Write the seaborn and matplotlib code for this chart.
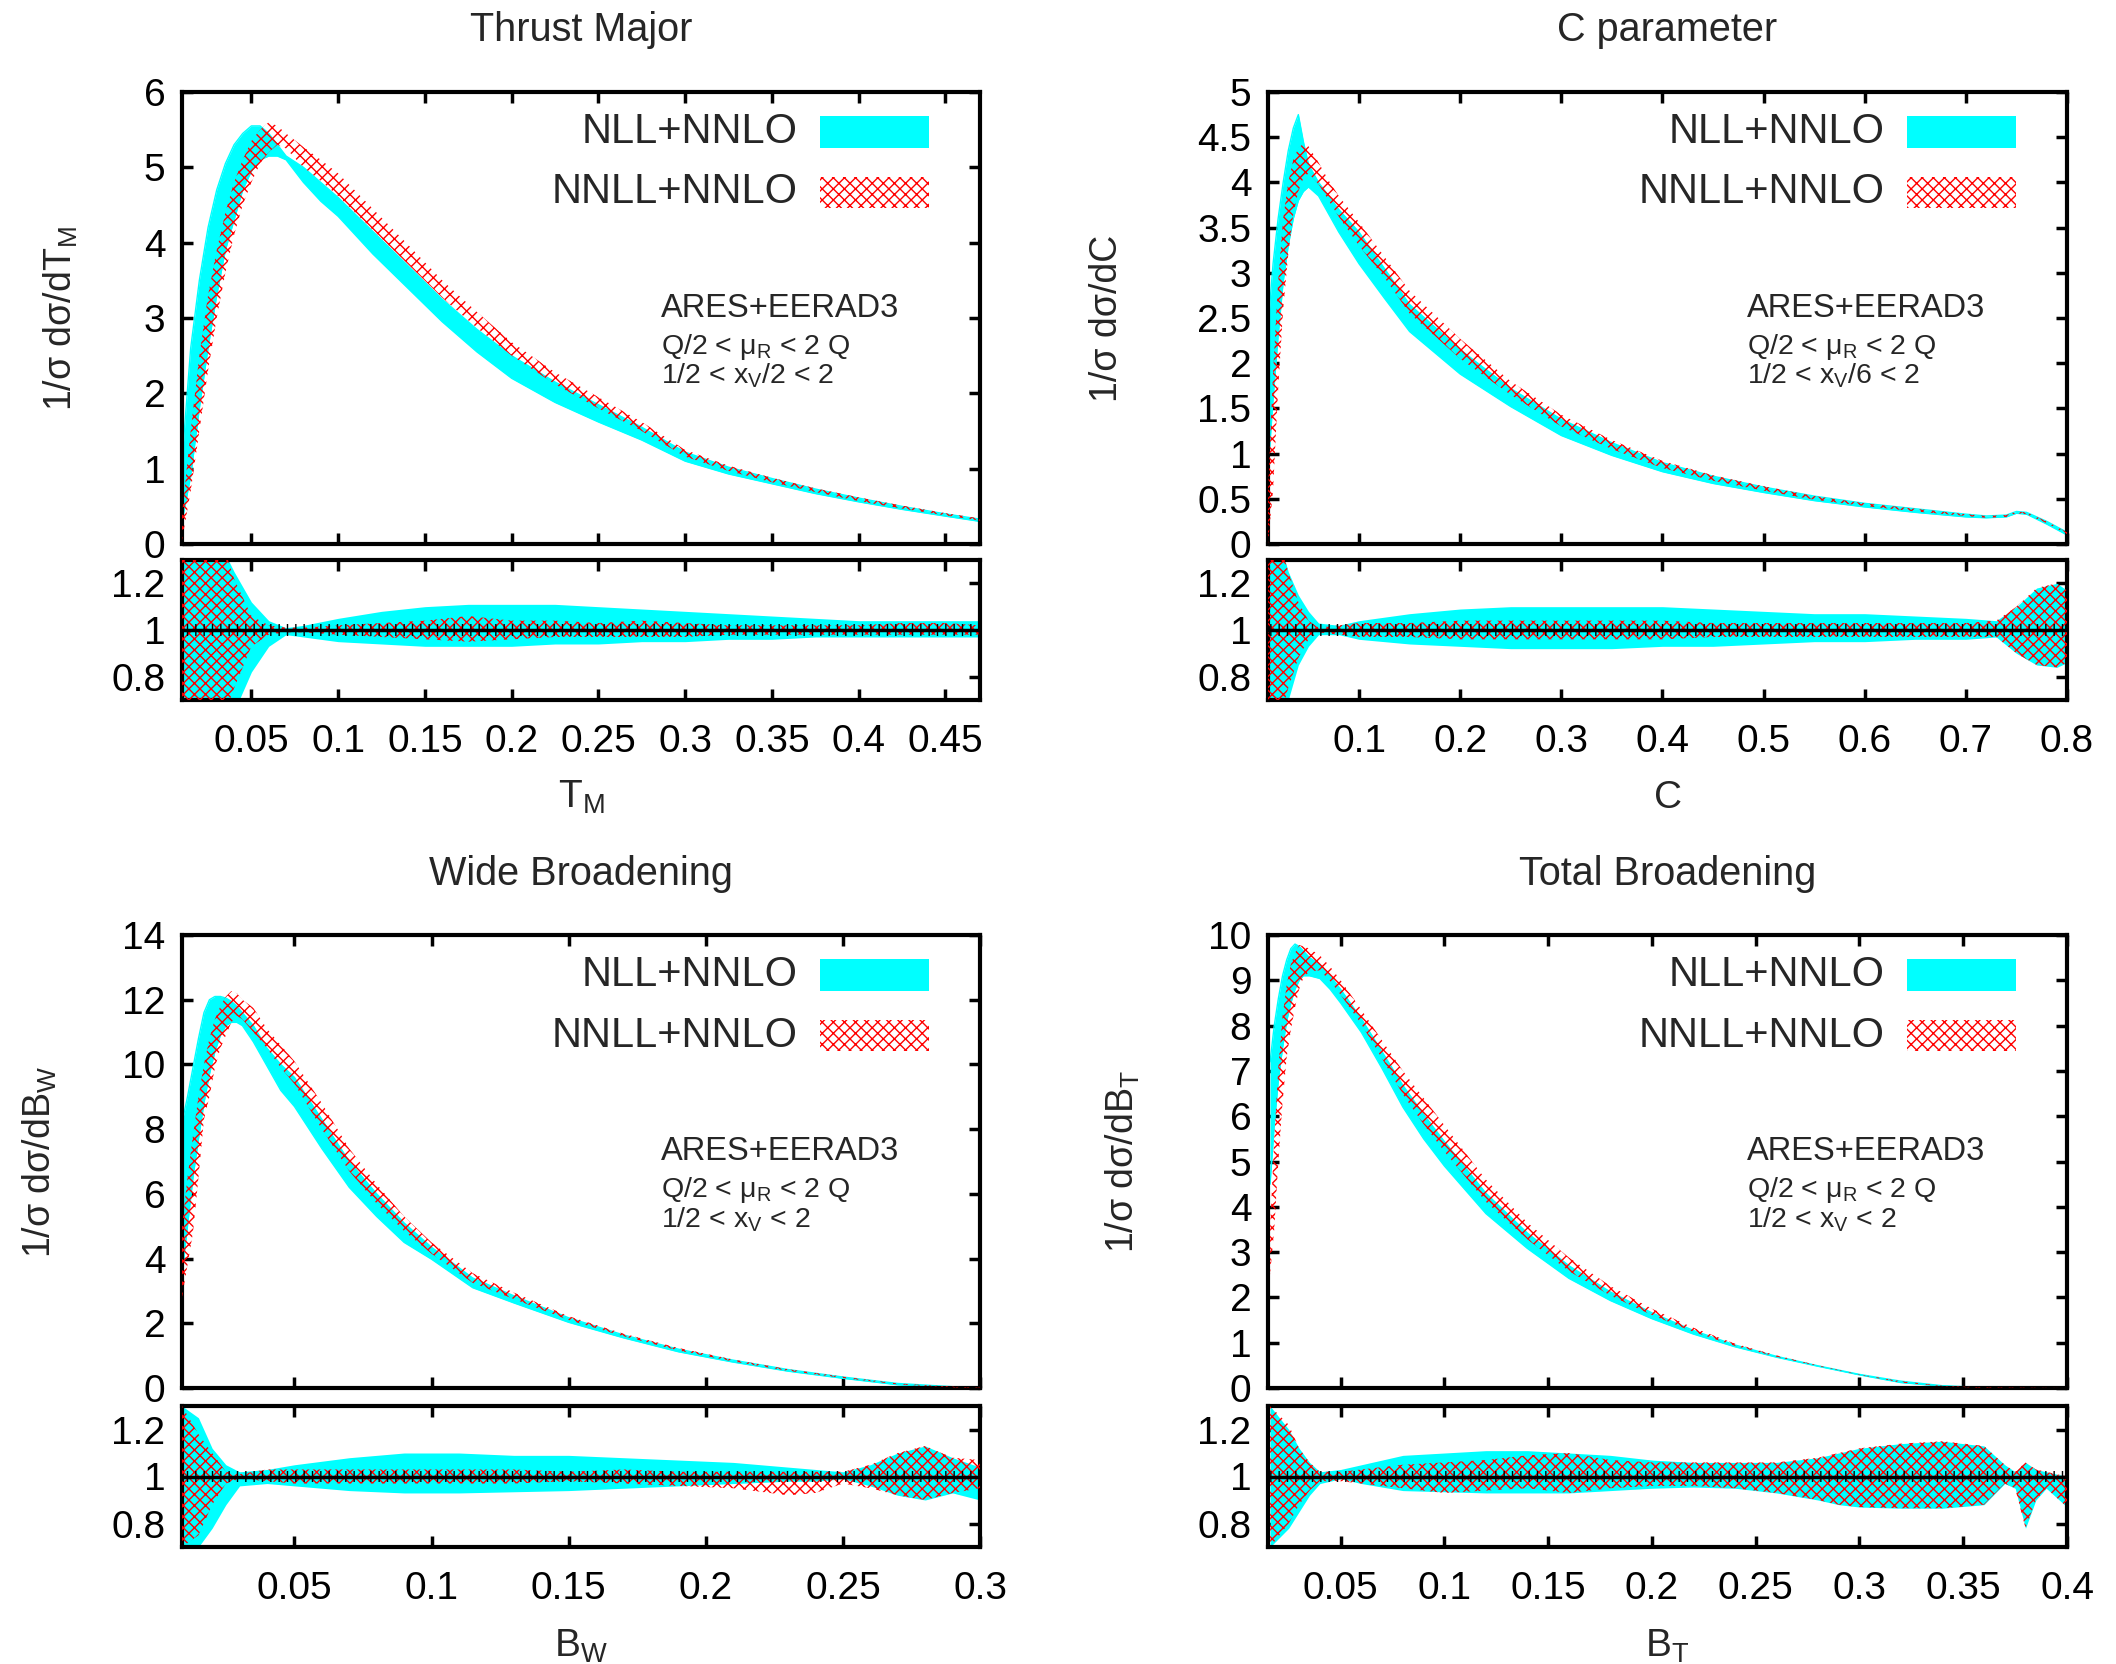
import matplotlib
matplotlib.use("Agg")
import matplotlib.pyplot as plt
import seaborn as sns
import numpy as np
from matplotlib.patches import Rectangle
from matplotlib.ticker import FixedLocator, FormatStrFormatter

# ---------------- Thrust Major ----------------
tm_x = [0.010, 0.015, 0.020, 0.025, 0.030, 0.035, 0.040, 0.045, 0.050, 0.055, 0.060, 0.065, 0.070,
        0.080, 0.090, 0.100, 0.120, 0.140, 0.160, 0.180, 0.200, 0.225, 0.250, 0.275, 0.300, 0.325,
        0.350, 0.375, 0.400, 0.425, 0.450, 0.470]
tm_nll_hi = [1.10, 2.60, 3.50, 4.20, 4.70, 5.05, 5.30, 5.45, 5.55, 5.55, 5.45, 5.30, 5.15,
             5.00, 4.80, 4.60, 4.15, 3.70, 3.25, 2.85, 2.50, 2.15, 1.85, 1.55, 1.22, 1.02,
             0.87, 0.73, 0.61, 0.50, 0.40, 0.33]
tm_nll_lo = [0.30, 0.90, 1.80, 2.60, 3.30, 3.90, 4.30, 4.70, 4.95, 5.10, 5.15, 5.15, 5.10,
             4.80, 4.55, 4.35, 3.85, 3.40, 2.95, 2.55, 2.20, 1.88, 1.62, 1.38, 1.10, 0.93,
             0.80, 0.67, 0.56, 0.46, 0.37, 0.30]
tm_nnll_hi = [0.40, 1.50, 2.50, 3.30, 3.90, 4.40, 4.80, 5.10, 5.35, 5.50, 5.60, 5.55, 5.45,
              5.27, 5.10, 4.92, 4.45, 3.98, 3.50, 3.08, 2.68, 2.28, 1.95, 1.62, 1.25, 1.04,
              0.88, 0.74, 0.62, 0.51, 0.41, 0.34]
tm_nnll_lo = [0.05, 0.70, 1.50, 2.30, 3.00, 3.60, 4.10, 4.50, 4.80, 5.05, 5.20, 5.30, 5.25,
              5.00, 4.82, 4.62, 4.17, 3.72, 3.27, 2.87, 2.50, 2.12, 1.80, 1.50, 1.16, 0.97,
              0.82, 0.69, 0.57, 0.47, 0.38, 0.31]
tm_rx = [0.01, 0.02, 0.03, 0.04, 0.05, 0.06, 0.07, 0.08, 0.1, 0.125, 0.15, 0.175, 0.2, 0.225,
         0.25, 0.275, 0.3, 0.325, 0.35, 0.375, 0.4, 0.425, 0.45, 0.47]
tm_nll_rhi = [1.5, 1.5, 1.4, 1.25, 1.12, 1.04, 1.01, 1.02, 1.05, 1.08, 1.1, 1.11, 1.11, 1.11,
              1.1, 1.09, 1.08, 1.07, 1.06, 1.05, 1.04, 1.04, 1.04, 1.04]
tm_nll_rlo = [0.5, 0.5, 0.55, 0.65, 0.82, 0.93, 0.98, 0.97, 0.95, 0.94, 0.93, 0.93, 0.93, 0.94,
              0.94, 0.95, 0.95, 0.96, 0.96, 0.97, 0.97, 0.97, 0.97, 0.97]
tm_nnll_rhi = [1.5, 1.5, 1.45, 1.22, 1.06, 1.02, 1.01, 1.01, 1.02, 1.03, 1.04, 1.06, 1.04, 1.04,
               1.03, 1.04, 1.03, 1.02, 1.02, 1.02, 1.02, 1.03, 1.03, 1.02]
tm_nnll_rlo = [0.5, 0.5, 0.55, 0.75, 0.93, 0.98, 0.99, 0.99, 0.98, 0.97, 0.96, 0.95, 0.96, 0.97,
               0.97, 0.97, 0.97, 0.98, 0.98, 0.98, 0.98, 0.98, 0.98, 0.98]
tm_xticks = [0.05, 0.1, 0.15, 0.2, 0.25, 0.3, 0.35, 0.4, 0.45]
tm_yticks = [0, 1, 2, 3, 4, 5, 6]

# ---------------- C parameter ----------------
c_x = [0.010, 0.015, 0.020, 0.025, 0.030, 0.035, 0.040, 0.045, 0.050, 0.060, 0.070, 0.080,
       0.100, 0.125, 0.150, 0.200, 0.250, 0.300, 0.350, 0.400, 0.450, 0.500, 0.550, 0.600,
       0.650, 0.700, 0.720, 0.740, 0.750, 0.760, 0.780, 0.800]
c_nll_hi = [2.40, 3.10, 3.60, 4.00, 4.35, 4.60, 4.75, 4.45, 4.20, 4.00, 3.85, 3.70,
            3.45, 3.05, 2.65, 2.15, 1.72, 1.38, 1.12, 0.90, 0.75, 0.63, 0.53, 0.45,
            0.39, 0.33, 0.31, 0.32, 0.36, 0.35, 0.25, 0.13]
c_nll_lo = [0.80, 1.60, 2.30, 2.90, 3.30, 3.60, 3.80, 3.90, 3.95, 3.85, 3.65, 3.45,
            3.10, 2.72, 2.35, 1.88, 1.52, 1.20, 0.98, 0.80, 0.67, 0.57, 0.48, 0.41,
            0.35, 0.30, 0.29, 0.30, 0.34, 0.33, 0.22, 0.10]
c_nnll_hi = [0.60, 1.90, 2.90, 3.60, 4.00, 4.25, 4.38, 4.43, 4.40, 4.22, 4.02, 3.85,
             3.56, 3.18, 2.80, 2.27, 1.80, 1.43, 1.15, 0.92, 0.76, 0.64, 0.53, 0.45,
             0.39, 0.33, 0.31, 0.32, 0.36, 0.35, 0.25, 0.13]
c_nnll_lo = [0.00, 0.60, 1.70, 2.60, 3.20, 3.65, 3.90, 4.05, 4.10, 3.98, 3.80, 3.62,
             3.30, 2.95, 2.55, 2.05, 1.65, 1.30, 1.05, 0.84, 0.70, 0.59, 0.49, 0.42,
             0.36, 0.31, 0.29, 0.30, 0.34, 0.33, 0.23, 0.11]
c_rx = [0.01, 0.02, 0.03, 0.04, 0.05, 0.06, 0.08, 0.1, 0.15, 0.2, 0.25, 0.3, 0.35, 0.4, 0.45,
        0.5, 0.55, 0.6, 0.65, 0.7, 0.73, 0.75, 0.77, 0.79, 0.8]
c_nll_rhi = [1.5, 1.4, 1.25, 1.15, 1.08, 1.03, 1.02, 1.04, 1.07, 1.09, 1.1, 1.1, 1.1, 1.1, 1.09,
             1.08, 1.07, 1.07, 1.06, 1.05, 1.04, 1.1, 1.18, 1.2, 1.17]
c_nll_rlo = [0.5, 0.6, 0.7, 0.85, 0.93, 0.98, 0.98, 0.96, 0.94, 0.93, 0.92, 0.92, 0.92, 0.93, 0.93,
             0.94, 0.95, 0.95, 0.96, 0.96, 0.97, 0.9, 0.85, 0.84, 0.86]
c_nnll_rhi = [1.5, 1.4, 1.25, 1.12, 1.04, 1.01, 1.02, 1.03, 1.03, 1.04, 1.04, 1.04, 1.04, 1.04, 1.03,
              1.03, 1.03, 1.03, 1.03, 1.03, 1.04, 1.1, 1.18, 1.2, 1.17]
c_nnll_rlo = [0.5, 0.6, 0.75, 0.88, 0.96, 0.99, 0.98, 0.97, 0.97, 0.96, 0.96, 0.96, 0.96, 0.96, 0.97,
              0.97, 0.97, 0.97, 0.97, 0.97, 0.97, 0.9, 0.85, 0.84, 0.86]
c_xticks = [0.1, 0.2, 0.3, 0.4, 0.5, 0.6, 0.7, 0.8]
c_yticks = [0, 0.5, 1, 1.5, 2, 2.5, 3, 3.5, 4, 4.5, 5]

# ---------------- Wide Broadening ----------------
bw_x = [0.009, 0.011, 0.013, 0.015, 0.017, 0.019, 0.021, 0.023, 0.025, 0.027, 0.029, 0.031,
        0.035, 0.040, 0.045, 0.050, 0.060, 0.070, 0.080, 0.090, 0.100, 0.115, 0.130, 0.150,
        0.170, 0.190, 0.210, 0.230, 0.250, 0.270, 0.290, 0.300]
bw_nll_hi = [8.20, 9.00, 9.90, 10.8, 11.6, 12.0, 12.1, 12.1, 12.05, 11.95, 11.8, 11.6,
             11.2, 10.5, 10.0, 9.60, 8.30, 7.00, 6.00, 5.10, 4.35, 3.40, 2.85, 2.17,
             1.64, 1.20, 0.86, 0.57, 0.34, 0.14, 0.04, 0.01]
bw_nll_lo = [3.50, 5.00, 6.50, 7.70, 8.80, 9.70, 10.4, 10.9, 11.2, 11.3, 11.3, 11.2,
             10.7, 9.95, 9.20, 8.70, 7.40, 6.20, 5.30, 4.50, 3.98, 3.10, 2.63, 2.03,
             1.55, 1.12, 0.80, 0.52, 0.30, 0.10, 0.02, 0.00]
bw_nnll_hi = [5.00, 6.50, 7.80, 9.00, 10.0, 10.8, 11.4, 11.8, 12.1, 12.27, 12.2, 12.0,
              11.75, 11.1, 10.6, 10.1, 8.80, 7.40, 6.30, 5.30, 4.50, 3.55, 2.95, 2.22,
              1.68, 1.24, 0.88, 0.58, 0.35, 0.14, 0.04, 0.01]
bw_nnll_lo = [2.80, 3.80, 4.80, 6.50, 8.30, 9.00, 9.90, 10.5, 10.9, 11.3, 11.5, 11.4,
              11.0, 10.5, 9.90, 9.40, 8.00, 6.70, 5.70, 4.85, 4.15, 3.25, 2.75, 2.10,
              1.60, 1.16, 0.82, 0.53, 0.31, 0.11, 0.02, 0.00]
bw_rx = [0.009, 0.015, 0.02, 0.025, 0.03, 0.04, 0.05, 0.07, 0.09, 0.11, 0.13, 0.15, 0.17, 0.19,
         0.21, 0.23, 0.24, 0.25, 0.26, 0.27, 0.28, 0.29, 0.3]
bw_nll_rhi = [1.3, 1.25, 1.12, 1.05, 1.02, 1.03, 1.05, 1.08, 1.1, 1.1, 1.09, 1.09, 1.08, 1.07,
              1.06, 1.04, 1.03, 1.02, 1.05, 1.1, 1.13, 1.08, 1.04]
bw_nll_rlo = [0.7, 0.7, 0.78, 0.88, 0.96, 0.97, 0.96, 0.94, 0.93, 0.93, 0.935, 0.94, 0.95, 0.96,
              0.97, 0.98, 0.98, 0.99, 0.96, 0.92, 0.9, 0.93, 0.9]
bw_nnll_rhi = [1.3, 1.18, 1.1, 1.02, 1.01, 1.03, 1.03, 1.03, 1.03, 1.03, 1.03, 1.02, 1.03, 1.02,
               1.02, 1.02, 1.02, 1.02, 1.05, 1.1, 1.13, 1.08, 1.07]
bw_nnll_rlo = [0.7, 0.75, 0.88, 0.97, 0.99, 0.98, 0.97, 0.97, 0.97, 0.97, 0.97, 0.98, 0.97, 0.96,
               0.95, 0.92, 0.93, 0.97, 0.95, 0.92, 0.9, 0.93, 0.95]
bw_xticks = [0.05, 0.1, 0.15, 0.2, 0.25, 0.3]
bw_yticks = [0, 2, 4, 6, 8, 10, 12, 14]

# ---------------- Total Broadening ----------------
bt_x = [0.016, 0.018, 0.020, 0.022, 0.024, 0.026, 0.028, 0.030, 0.032, 0.035, 0.040, 0.045,
        0.050, 0.060, 0.070, 0.080, 0.090, 0.100, 0.120, 0.140, 0.160, 0.180, 0.200, 0.220,
        0.240, 0.260, 0.280, 0.300, 0.320, 0.340, 0.360, 0.400]
bt_nll_hi = [7.20, 8.00, 8.60, 9.10, 9.45, 9.70, 9.80, 9.75, 9.65, 9.50, 9.35, 9.10,
             8.80, 8.15, 7.42, 6.68, 6.04, 5.44, 4.30, 3.42, 2.70, 2.12, 1.66, 1.27,
             0.95, 0.70, 0.49, 0.30, 0.15, 0.05, 0.01, 0.00]
bt_nll_lo = [4.50, 5.80, 6.80, 7.50, 8.10, 8.50, 8.80, 9.00, 9.10, 9.10, 9.04, 8.80,
             8.50, 7.85, 7.05, 6.20, 5.50, 4.90, 3.85, 3.08, 2.42, 1.93, 1.53, 1.19,
             0.91, 0.68, 0.48, 0.29, 0.12, 0.04, 0.00, 0.00]
bt_nnll_hi = [3.50, 5.50, 7.10, 8.20, 8.90, 9.35, 9.60, 9.78, 9.75, 9.70, 9.55, 9.30,
              9.00, 8.35, 7.67, 7.00, 6.40, 5.80, 4.60, 3.65, 2.88, 2.25, 1.75, 1.33,
              0.98, 0.72, 0.50, 0.30, 0.15, 0.05, 0.01, 0.00]
bt_nnll_lo = [2.50, 3.50, 5.00, 6.30, 7.30, 7.90, 8.40, 8.80, 9.05, 9.20, 9.22, 8.98,
              8.68, 8.03, 7.27, 6.48, 5.82, 5.22, 4.11, 3.28, 2.58, 2.04, 1.61, 1.24,
              0.93, 0.69, 0.485, 0.29, 0.12, 0.04, 0.00, 0.00]
bt_rx = [0.016, 0.025, 0.03, 0.035, 0.04, 0.05, 0.06, 0.08, 0.1, 0.12, 0.14, 0.16, 0.18, 0.2,
         0.22, 0.24, 0.26, 0.28, 0.29, 0.3, 0.32, 0.34, 0.36, 0.37, 0.375, 0.38, 0.385, 0.39, 0.4]
bt_nll_rhi = [1.3, 1.2, 1.12, 1.06, 1.02, 1.03, 1.05, 1.09, 1.1, 1.11, 1.11, 1.1, 1.09, 1.07,
              1.06, 1.06, 1.06, 1.08, 1.1, 1.12, 1.14, 1.15, 1.13, 1.05, 1.02, 1.06, 1.03, 1.02, 1.0]
bt_nll_rlo = [0.7, 0.78, 0.85, 0.92, 0.97, 0.99, 0.97, 0.94, 0.935, 0.93, 0.93, 0.93, 0.94, 0.95,
              0.955, 0.95, 0.93, 0.9, 0.88, 0.87, 0.865, 0.865, 0.88, 0.97, 0.95, 0.78, 0.9, 0.95, 0.87]
bt_nnll_rhi = [1.3, 1.22, 1.12, 1.06, 1.02, 1.02, 1.03, 1.05, 1.06, 1.07, 1.09, 1.1, 1.07, 1.06,
               1.06, 1.06, 1.06, 1.08, 1.1, 1.12, 1.14, 1.15, 1.13, 1.05, 1.02, 1.06, 1.03, 1.02, 1.0]
bt_nnll_rlo = [0.7, 0.8, 0.88, 0.94, 0.98, 0.98, 0.97, 0.95, 0.93, 0.94, 0.95, 0.93, 0.95, 0.96,
               0.96, 0.95, 0.93, 0.9, 0.88, 0.87, 0.865, 0.865, 0.88, 0.97, 0.95, 0.78, 0.9, 0.95, 0.87]
bt_xticks = [0.05, 0.1, 0.15, 0.2, 0.25, 0.3, 0.35, 0.4]
bt_yticks = [0, 1, 2, 3, 4, 5, 6, 7, 8, 9, 10]

ratio_yticks = [0.8, 1, 1.2]

CYAN = "#00ffff"
RED = "#ff0000"
HATCH = "xxx"

sns.set_style("ticks")
plt.rcParams["font.family"] = ["Liberation Sans", "DejaVu Sans"]
plt.rcParams["mathtext.default"] = "regular"
plt.rcParams["hatch.linewidth"] = 1.0

W, H = 2116, 1664
fig = plt.figure(figsize=(W / 100, H / 100), dpi=100)


def box(x0, y0, x1, y1):
    return [x0 / W, 1 - y1 / H, (x1 - x0) / W, (y1 - y0) / H]


panels = [
    dict(title="Thrust Major", xlabel="T$_M$", ylabel="1/σ dσ/dT$_M$", col=0, row=0, ylx=61,
         xlim=(0.01, 0.47), ylim=(0, 6), xticks=tm_xticks, yticks=tm_yticks,
         x=tm_x, nll=(tm_nll_lo, tm_nll_hi), nnll=(tm_nnll_lo, tm_nnll_hi),
         rx=tm_rx, rnll=(tm_nll_rlo, tm_nll_rhi), rnnll=(tm_nnll_rlo, tm_nnll_rhi),
         xv="1/2 < x$_V$/2 < 2"),
    dict(title="C parameter", xlabel="C", ylabel="1/σ dσ/dC", col=1, row=0, ylx=1107,
         xlim=(0.01, 0.8), ylim=(0, 5), xticks=c_xticks, yticks=c_yticks,
         x=c_x, nll=(c_nll_lo, c_nll_hi), nnll=(c_nnll_lo, c_nnll_hi),
         rx=c_rx, rnll=(c_nll_rlo, c_nll_rhi), rnnll=(c_nnll_rlo, c_nnll_rhi),
         xv="1/2 < x$_V$/6 < 2"),
    dict(title="Wide Broadening", xlabel="B$_W$", ylabel="1/σ dσ/dB$_W$", col=0, row=1, ylx=40,
         xlim=(0.009, 0.3), ylim=(0, 14), xticks=bw_xticks, yticks=bw_yticks,
         x=bw_x, nll=(bw_nll_lo, bw_nll_hi), nnll=(bw_nnll_lo, bw_nnll_hi),
         rx=bw_rx, rnll=(bw_nll_rlo, bw_nll_rhi), rnnll=(bw_nnll_rlo, bw_nnll_rhi),
         xv="1/2 < x$_V$ < 2"),
    dict(title="Total Broadening", xlabel="B$_T$", ylabel="1/σ dσ/dB$_T$", col=1, row=1, ylx=1123,
         xlim=(0.015, 0.4), ylim=(0, 10), xticks=bt_xticks, yticks=bt_yticks,
         x=bt_x, nll=(bt_nll_lo, bt_nll_hi), nnll=(bt_nnll_lo, bt_nnll_hi),
         rx=bt_rx, rnll=(bt_nll_rlo, bt_nll_rhi), rnnll=(bt_nnll_rlo, bt_nnll_rhi),
         xv="1/2 < x$_V$ < 2"),
]

cols = [(182, 980), (1268, 2067)]
rows = [(92, 544, 560, 700, 30, 808), (935, 1388, 1406, 1547, 874, 1657)]


def style_axis(ax, xticks, yticks, xlim, ylim, show_xlabels):
    ax.set_xlim(*xlim)
    ax.set_ylim(*ylim)
    ax.xaxis.set_major_locator(FixedLocator(xticks))
    ax.yaxis.set_major_locator(FixedLocator(yticks))
    ax.xaxis.set_major_formatter(FormatStrFormatter("%g"))
    ax.yaxis.set_major_formatter(FormatStrFormatter("%g"))
    ax.tick_params(direction="in", length=8, width=2.5, top=True, right=True,
                   labelsize=28, pad=12, colors="black")
    ax.tick_params(axis="x", pad=17)
    if not show_xlabels:
        ax.tick_params(axis="x", labelbottom=False)
    for s in ax.spines.values():
        s.set_linewidth(3)
        s.set_color("black")
        s.set_visible(True)


for p in panels:
    x0, x1 = cols[p["col"]]
    mt, mb, rt, rb, ty, xly = rows[p["row"]]
    ax = fig.add_axes(box(x0, mt, x1, mb))
    axr = fig.add_axes(box(x0, rt, x1, rb))

    # main distribution
    ax.fill_between(p["x"], p["nll"][0], p["nll"][1], color=CYAN, lw=0, zorder=2)
    sns.lineplot(x=p["x"], y=p["nll"][1], ax=ax, color=CYAN, lw=1, zorder=2)
    sns.lineplot(x=p["x"], y=p["nll"][0], ax=ax, color=CYAN, lw=1, zorder=2)
    ax.fill_between(p["x"], p["nnll"][0], p["nnll"][1], facecolor="none", edgecolor=RED,
                    hatch=HATCH, lw=0, zorder=3)
    style_axis(ax, p["xticks"], p["yticks"], p["xlim"], p["ylim"], False)

    # legend (gnuplot style: text then swatch)
    ax.text(0.772, 0.912, "NLL+NNLO", transform=ax.transAxes, ha="right", va="center", fontsize=30)
    ax.text(0.772, 0.778, "NNLL+NNLO", transform=ax.transAxes, ha="right", va="center", fontsize=30)
    ax.add_patch(Rectangle((0.80, 0.877), 0.136, 0.07, transform=ax.transAxes,
                           facecolor=CYAN, edgecolor="none", zorder=4))
    ax.add_patch(Rectangle((0.80, 0.743), 0.136, 0.07, transform=ax.transAxes,
                           facecolor="none", edgecolor=RED, hatch=HATCH, lw=0, zorder=4))

    # annotation
    ax.text(0.60, 0.503, "ARES+EERAD3", transform=ax.transAxes, fontsize=23.5, va="baseline")
    ax.text(0.60, 0.421, "Q/2 < μ$_R$ < 2 Q", transform=ax.transAxes, fontsize=20.5, va="baseline")
    ax.text(0.60, 0.355, p["xv"], transform=ax.transAxes, fontsize=20.5, va="baseline")

    # ratio panel
    axr.fill_between(p["rx"], p["rnll"][0], p["rnll"][1], color=CYAN, lw=0, zorder=2)
    axr.fill_between(p["rx"], p["rnnll"][0], p["rnnll"][1], facecolor="none", edgecolor=RED,
                     hatch=HATCH, lw=0, zorder=3)
    axr.axhline(1, color="black", lw=2.5, zorder=4)
    # bin error-bar marks along the reference line
    axr.axhspan(0.975, 1.025, facecolor="none", edgecolor="black", hatch="||",
                lw=0, zorder=4)
    style_axis(axr, p["xticks"], ratio_yticks, p["xlim"], (0.7, 1.3), True)

    # titles and labels
    fig.text((x0 + x1) / 2 / W, 1 - ty / H, p["title"], ha="center", va="center", fontsize=28.5)
    fig.text((x0 + x1) / 2 / W, 1 - xly / H, p["xlabel"], ha="center", va="baseline", fontsize=28)
    fig.text(p["ylx"] / W, 1 - (mt + mb) / 2 / H, p["ylabel"], ha="center", va="center",
             rotation=90, fontsize=27)

fig.savefig("out.png", dpi=100)
